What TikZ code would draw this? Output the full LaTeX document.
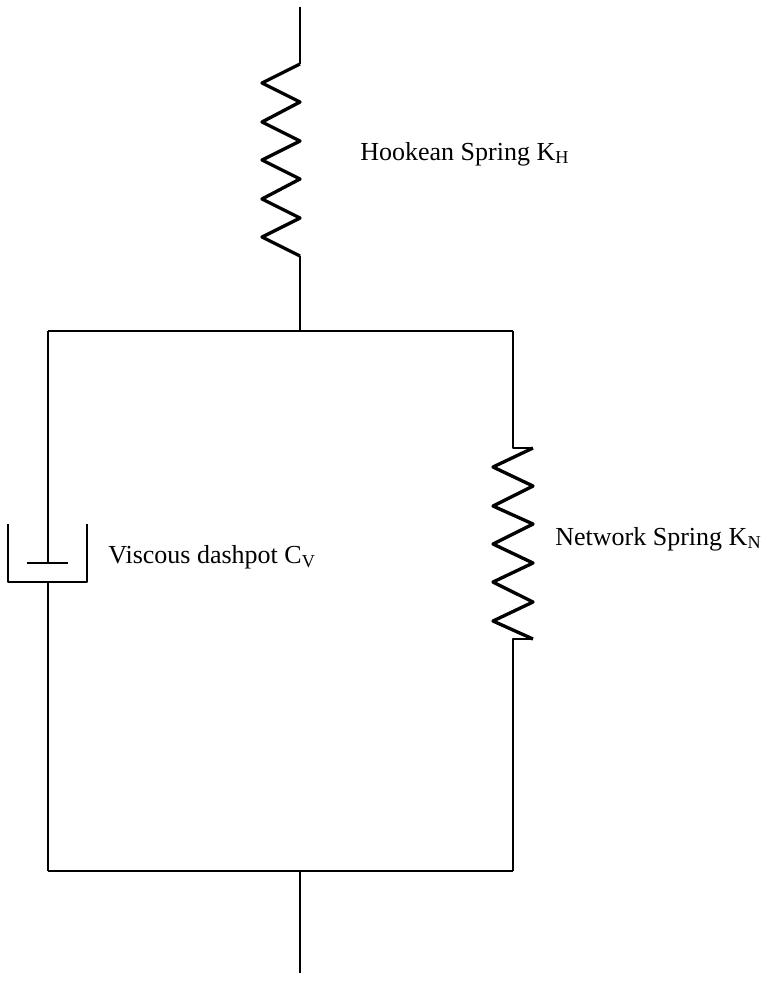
\documentclass[tikz,border=0pt]{standalone}
\usepackage{fontspec}
\setmainfont{Liberation Serif}
\tikzset{
  link/.style={line width=1.5pt, line join=round},
  spring/.style={line width=1.9pt, line join=round},
  lbl/.style={anchor=base west, inner sep=0pt, font=\fontsize{14.8}{17}\selectfont},
}
\begin{document}
\begin{tikzpicture}[y=-1cm]
        \useasboundingbox (0,0) rectangle (15.24,19.76);
        %junctions
        \coordinate (top) at (6, 0.14);
        \coordinate (tl) at (0.96, 6.62);
        \coordinate (tm) at (6, 6.62);
        \coordinate (tr) at (10.26, 6.62);
        \coordinate (bl) at (0.96, 17.42);
        \coordinate (bm) at (6, 17.42);
        \coordinate (br) at (10.26, 17.42);
        \coordinate (bottom) at (6, 19.46);

        %frame
        \draw[link] (tl) -- (tr);
        \draw[link] (bl) -- (br);
        \draw[link] (tm) -- (6, 5.12);
        \draw[link] (bm) -- (bottom);

        %hookean spring
        \draw[link] (top) -- (6, 1.28);
        \draw[spring] (6, 1.28) -- (5.24, 1.66) -- (6, 2.04) -- (5.24, 2.44) -- (6, 2.82)
            -- (5.24, 3.2) -- (6, 3.58) -- (5.24, 3.98) -- (6, 4.36) -- (5.24, 4.74) -- (6, 5.12);

        %network spring
        \draw[link] (tr) -- (10.26, 8.96) -- (10.66, 8.96);
        \draw[spring] (10.66, 8.96) -- (9.86, 9.34) -- (10.66, 9.72) -- (9.86, 10.12)
            -- (10.66, 10.48) -- (9.86, 10.88) -- (10.66, 11.26) -- (9.86, 11.64) -- (10.66, 12.04)
            -- (9.86, 12.42) -- (10.66, 12.78);
        \draw[link] (10.66, 12.78) -- (10.26, 12.78) -- (br);

        %dashpot
        \draw[link] (tl) -- (0.96, 11.26);
        \draw[link] (0.54, 11.26) -- (1.36, 11.26);
        \draw[link] (0.16, 10.48) -- (0.16, 11.64) -- (1.74, 11.64) -- (1.74, 10.48);
        \draw[link] (0.96, 11.64) -- (bl);

        \node[lbl] (hookean) at (7.2, 3.2) {Hookean Spring K$_{\mathrm{H}}$};
        \node[lbl] (viscous) at (2.16, 11.27) {Viscous dashpot C$_{\mathrm{V}}$};
        \node[lbl] (network) at (11.1, 10.9) {Network Spring K$_{\mathrm{N}}$};
    \end{tikzpicture}
\end{document}
